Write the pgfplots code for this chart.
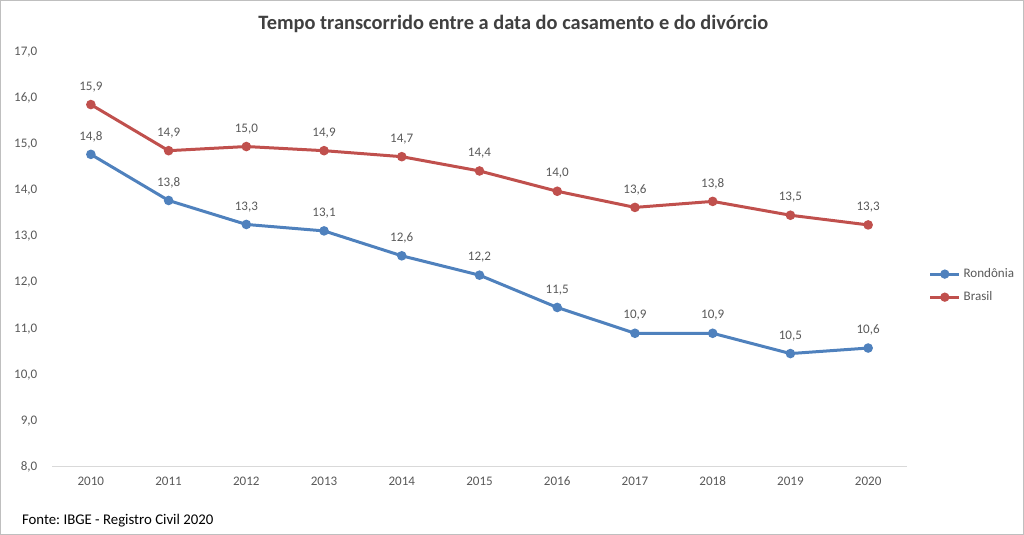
\documentclass[border=0pt]{standalone}
\usepackage{pgfplots}
\pgfplotsset{compat=1.18}
\usepackage{fontspec}
\setmainfont{Carlito}
\frenchspacing
\definecolor{cblue}{HTML}{4F81BD}
\definecolor{cred}{HTML}{C0504D}
\definecolor{ctxt}{HTML}{595959}
\definecolor{cline}{HTML}{D9D9D9}
\begin{document}
\begin{tikzpicture}
\useasboundingbox (0,0) rectangle (768pt,401.25pt);
\draw[color=black!25, line width=0.75pt] (0.4pt,0.4pt) rectangle (767.6pt,400.85pt);
\node[font=\bfseries\fontsize{15.3}{18}\selectfont, text=black!75] at (385pt,383pt) {Tempo transcorrido entre a data do casamento e do divórcio};
\node[anchor=west, font=\fontsize{11.1}{13}\selectfont, text=black] at (13pt,10.5pt) {Fonte: IBGE - Registro Civil 2020};
\begin{axis}[
  at={(39pt,51pt)}, anchor=south west,
  scale only axis, width=641.25pt, height=311.25pt,
  xmin=-0.5, xmax=10.5, ymin=8, ymax=17,
  xtick={0,...,10},
  xticklabels={2010,2011,2012,2013,2014,2015,2016,2017,2018,2019,2020},
  ytick={8,9,...,17},
  axis y line*=left,
  y axis line style={draw=none},
  axis x line*=bottom,
  x axis line style={cline, line width=0.75pt, -},
  major tick length=0pt,
  tick label style={font=\fontsize{9.8}{11}\selectfont, text=ctxt},
  /pgf/number format/assume math mode=true,
  /pgf/number format/.cd, use comma, fixed, fixed zerofill, precision=1,
  /pgfplots/.cd,
  yticklabel style={xshift=-7.5pt},
  xticklabel style={yshift=-4pt},
  clip=false,
  nodes near coords,
  every node near coord/.append style={font=\fontsize{9.8}{11}\selectfont, text=ctxt, yshift=5pt,
     /pgf/number format/assume math mode=true},
  legend style={at={(rel axis cs:1.025,0.437)}, anchor=west, draw=none, fill=none,
     font=\fontsize{9.8}{11}\selectfont, text=ctxt, row sep=5pt, inner sep=0pt},
  legend cell align=left,
  legend image code/.code={
    \draw[#1, mark=none] (0pt,0pt) -- (22pt,0pt);
    \fill[#1] (11pt,0pt) circle (2.3pt);
  },
]
\addplot[cblue, line width=2.25pt, mark=*, mark size=2.4pt] coordinates {
(0,14.78) (1,13.78) (2,13.26) (3,13.12) (4,12.58) (5,12.16) (6,11.46) (7,10.9) (8,10.9) (9,10.46) (10,10.58)};
\addlegendentry{Rondônia}
\addplot[cred, line width=2.25pt, mark=*, mark size=2.4pt] coordinates {
(0,15.86) (1,14.86) (2,14.95) (3,14.86) (4,14.73) (5,14.42) (6,13.98) (7,13.63) (8,13.76) (9,13.46) (10,13.25)};
\addlegendentry{Brasil}
\end{axis}
\end{tikzpicture}
\end{document}
